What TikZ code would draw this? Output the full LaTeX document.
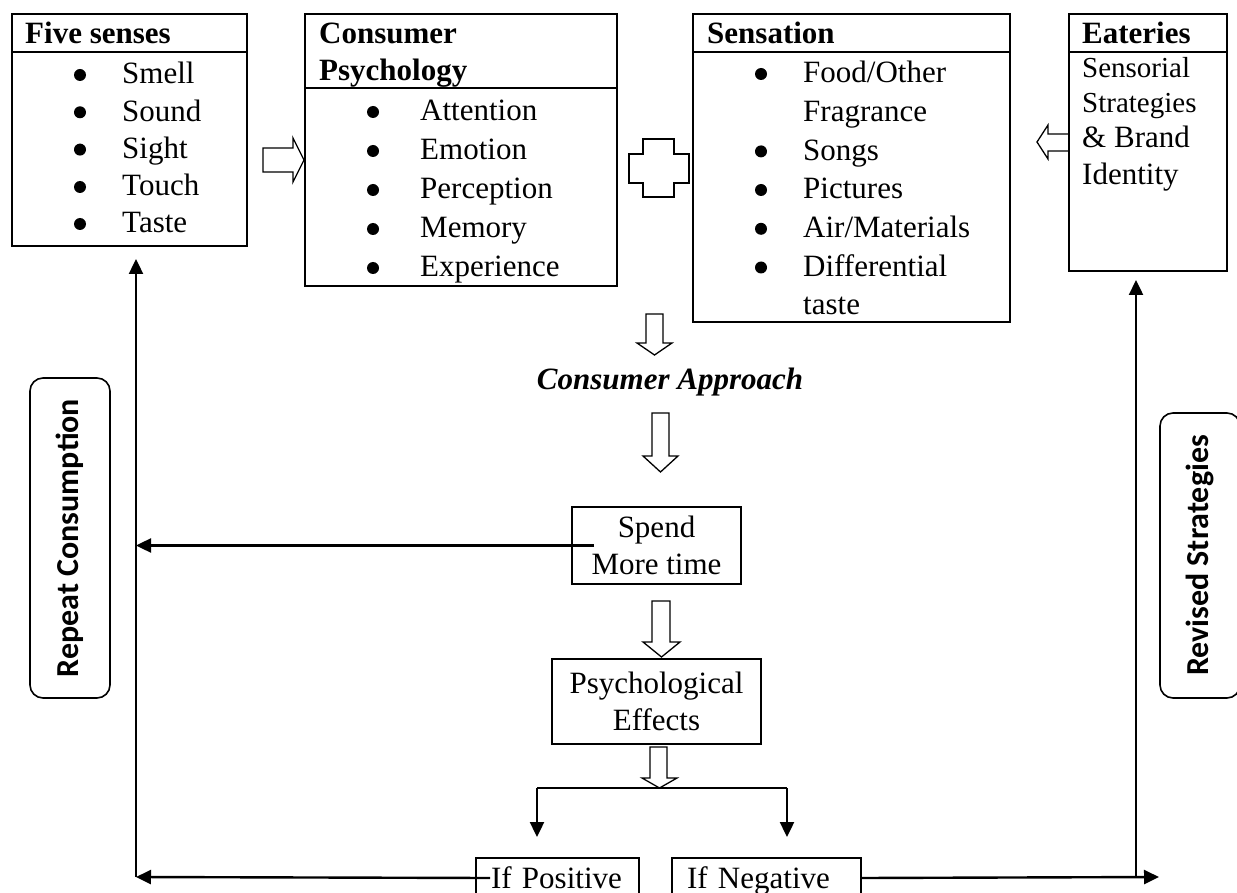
\documentclass[tikz,border=0pt]{standalone}
\usepackage{fontspec}
\setmainfont{Liberation Serif}
\newfontfamily\calibfont{Carlito}
\usetikzlibrary{arrows.meta}

\tikzset{
  box/.style={draw, line width=2pt, inner sep=0pt},
  hollow/.style={draw, line width=1.3pt, line join=miter},
  conn/.style={line width=2.4pt},
  arr/.style={conn, -{Triangle[length=15pt,width=14pt]}},
  ifbox/.style={box, anchor=north west, minimum height=40, inner xsep=15pt, align=left, text height=21pt, text depth=0pt},
  side/.style={draw, line width=1.6pt, rounded corners=13pt, inner sep=0pt, font=\calibfont\bfseries\fontsize{32}{38}\selectfont},
}

\begin{document}
\fontsize{31}{37}\selectfont
\begin{tikzpicture}[x=1pt,y=1pt,yscale=-1,xscale=1]
\useasboundingbox (0,0) rectangle (1237,893);

%Shape: Rectangle -- five senses
\node (fsbox) [box, anchor=north west, minimum width=235, minimum height=232] at (11,13) {};
\draw [line width=2pt] (fsbox.west |- 0,52) -- (fsbox.east |- 0,52) ;
%Shape: Rectangle -- consumer psychology
\node (cpbox) [box, anchor=north west, minimum width=312, minimum height=272] at (304,13) {};
\draw [line width=2pt] (cpbox.west |- 0,88) -- (cpbox.east |- 0,88) ;
%Shape: Rectangle -- sensation
\node (sensbox) [box, anchor=north west, minimum width=317, minimum height=308] at (692,13) {};
\draw [line width=2pt] (sensbox.west |- 0,52) -- (sensbox.east |- 0,52) ;
%Shape: Rectangle -- eateries
\node (eatbox) [box, anchor=north west, minimum width=158, minimum height=257] at (1068,13) {};
\draw [line width=2pt] (eatbox.west |- 0,52) -- (eatbox.east |- 0,52) ;

%Shape: Circle -- bullets
\foreach \y in {84,121.3,158.6,196,233} \fill (80,\y-9) circle (6) ;
\foreach \y in {121,160,199,238,277} \fill (373,\y-9) circle (6) ;
\foreach \y in {83,160.4,199,237.8,276.5} \fill (761,\y-9) circle (6) ;

% Text Node
\draw (25,44) node (fshead) [anchor=base west] [inner sep=0pt] {\textbf{Five senses}};
\draw (122,84) node (fs1) [anchor=base west] [inner sep=0pt] {Smell};
\draw (122,121.3) node (fs2) [anchor=base west] [inner sep=0pt] {Sound};
\draw (122,158.6) node (fs3) [anchor=base west] [inner sep=0pt] {Sight};
\draw (122,196) node (fs4) [anchor=base west] [inner sep=0pt] {Touch};
\draw (122,233) node (fs5) [anchor=base west] [inner sep=0pt] {Taste};
% Text Node
\draw (319,44) node (cphead1) [anchor=base west] [inner sep=0pt] {\textbf{Consumer}};
\draw (319,81) node (cphead2) [anchor=base west] [inner sep=0pt] {\textbf{Psychology}};
\draw (420,121) node (cp1) [anchor=base west] [inner sep=0pt] {Attention};
\draw (420,160) node (cp2) [anchor=base west] [inner sep=0pt] {Emotion};
\draw (420,199) node (cp3) [anchor=base west] [inner sep=0pt] {Perception};
\draw (420,238) node (cp4) [anchor=base west] [inner sep=0pt] {Memory};
\draw (420,277) node (cp5) [anchor=base west] [inner sep=0pt] {Experience};
% Text Node
\draw (707,44) node (senshead) [anchor=base west] [inner sep=0pt] {\textbf{Sensation}};
\draw (803,83) node (sens1) [anchor=base west] [inner sep=0pt] {Food/Other};
\draw (803,121.7) node (sens1b) [anchor=base west] [inner sep=0pt] {Fragrance};
\draw (803,160.4) node (sens2) [anchor=base west] [inner sep=0pt] {Songs};
\draw (803,199) node (sens3) [anchor=base west] [inner sep=0pt] {Pictures};
\draw (803,237.8) node (sens4) [anchor=base west] [inner sep=0pt] {Air/Materials};
\draw (803,276.5) node (sens5) [anchor=base west] [inner sep=0pt] {Differential};
\draw (803,315) node (sens5b) [anchor=base west] [inner sep=0pt] {taste};
% Text Node
\draw (1082,44) node (eathead) [anchor=base west] [inner sep=0pt] {\textbf{Eateries}};
\draw (1082,78) node (eat1) [anchor=base west] [inner sep=0pt] {\fontsize{29}{35}\selectfont Sensorial};
\draw (1082,113) node (eat2) [anchor=base west] [inner sep=0pt] {\fontsize{29}{35}\selectfont Strategies};
\draw (1082,148) node (eat3) [anchor=base west] [inner sep=0pt] {\&~Brand};
\draw (1082,185) node (eat4) [anchor=base west] [inner sep=0pt] {Identity};

%Shape: Right Arrow
\draw [hollow] (263,148) -- (293,148) -- (293,138) -- (304,160) -- (293,182) -- (293,172) -- (263,172) -- cycle ;
%Shape: Cross
\draw [hollow] (643,139) -- (674,139) -- (674,154) -- (689,154) -- (689,183) -- (674,183) -- (674,197) -- (643,197) -- (643,183) -- (629,183) -- (629,154) -- (643,154) -- cycle ;
%Shape: Left Arrow
\draw [hollow] (1068,134) -- (1048,134) -- (1048,125) -- (1037,142) -- (1048,159) -- (1048,151) -- (1068,151) ;

%Shape: Down Arrow
\draw [hollow] (646,314) -- (663,314) -- (663,343) -- (672,343) -- (654.5,355) -- (637,343) -- (646,343) -- cycle ;
% Text Node
\draw (670,389) node (approach) [anchor=base] [inner sep=0pt] {\textbf{\textit{Consumer Approach}}};
%Shape: Down Arrow
\draw [hollow] (652,413) -- (669,413) -- (669,456) -- (678,456) -- (660.5,472) -- (643,456) -- (652,456) -- cycle ;

%Shape: Rectangle
\node (spend) [box, minimum width=169, minimum height=77, align=center] at (656.5,545.5) {Spend\\More time};
%Shape: Down Arrow
\draw [hollow] (652,601) -- (670,601) -- (670,642) -- (680,642) -- (661.5,657) -- (643,642) -- (652,642) -- cycle ;
%Shape: Rectangle
\node (psych) [box, minimum width=209, minimum height=85, align=center] at (656.5,701.5) {Psychological\\Effects};
%Shape: Down Arrow
\draw [hollow] (650,747) -- (667,747) -- (667,778) -- (677,778) -- (659.5,788) -- (642,778) -- (650,778) -- cycle ;

%Shape: Rectangle
\node (pos) [ifbox, text width=133] at (475,857) {If Positive};
\node (neg) [ifbox, text width=159] at (671,857) {If Negative};

%Shape: Rounded Rectangle
\node (repeat) [side, rotate=90, minimum width=320, minimum height=80] at (70,538) {Repeat Consumption};
\node (revised) [side, rotate=90, minimum width=285, minimum height=80] at (1200,555.5) {Revised Strategies};

%Straight Lines
\coordinate (forkl) at (537,788);
\coordinate (forkr) at (787,788);
\coordinate (lbot) at (136,877);
\coordinate (rbot) at (1136,877);
\coordinate (rend) at (1159,877);
\draw [conn] (forkl) -- (forkr) ;
\draw [arr, shorten >=20pt] (forkl) -- (forkl |- pos.north) ;
\draw [arr, shorten >=20pt] (forkr) -- (forkr |- neg.north) ;
\draw [arr] ([xshift=23pt]spend.west) -- (spend.west -| lbot) ;
\draw [arr] ([xshift=15pt]pos.west) -- (lbot) ;
\draw [arr, shorten >=12pt] (lbot) -- (lbot |- fsbox.south) ;
\draw [arr] (neg.east) -- (rend) ;
\draw [arr, shorten >=8pt] (rbot) -- (rbot |- eatbox.south) ;

\end{tikzpicture}
\end{document}
